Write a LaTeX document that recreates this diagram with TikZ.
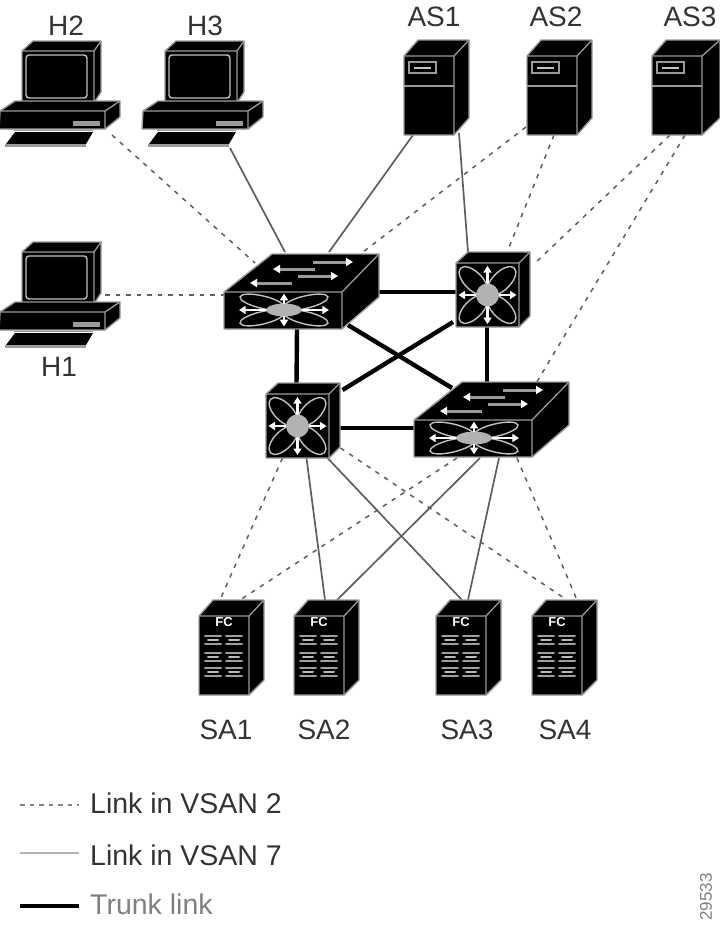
\documentclass[tikz,border=0pt]{standalone}
\usepackage{fontspec}
\setmainfont{Liberation Sans}
\usetikzlibrary{backgrounds,arrows.meta}
\definecolor{edgegray}{HTML}{9A9A9A}
\definecolor{linkgray}{HTML}{5E5E5E}
\definecolor{txtgray}{HTML}{333333}
\tikzset{
  devbox/.style={inner sep=0pt,outer sep=0pt,draw=none,rectangle},
  blk/.style={fill=black,draw=edgegray,line width=1.4pt,line join=round},
  dashlink/.style={draw=linkgray,line width=1.5pt,dash pattern=on 4.5pt off 6pt},
  sollink/.style={draw=linkgray,line width=1.7pt},
  trunk/.style={draw=black,line width=4.4pt},
  lbl/.style={inner sep=0pt,text=txtgray,font=\fontsize{28}{30}\selectfont},
  leg/.style={inner sep=0pt,anchor=west,font=\fontsize{28.5}{30}\selectfont},
  star/.style={draw=white,line width=2.2pt,{Triangle[width=8pt,length=6.5pt,fill=white]}-{Triangle[width=8pt,length=6.5pt,fill=white]}},
  pet/.style={draw=edgegray!60!white,line width=1.4pt},
  lefta/.style={draw=edgegray,line width=3pt,{Triangle[width=8pt,length=7pt,fill=white,color=white]}-},
  righta/.style={draw=edgegray,line width=3pt,-{Triangle[width=8pt,length=7pt,fill=white,color=white]}}
}
% star emblem: centre, x scale, y scale
\newcommand{\staremblem}[4]{%
  \begin{scope}[shift={(#1,#2)},xscale=#3,yscale=#4]
    \foreach \a in {45,135,225,315}{\draw[pet,rotate=\a] (20,0) ellipse (18 and 9);}
    \draw[star] (-29,0) -- (29,0);
    \draw[star] (0,-29) -- (0,29);
    \fill[gray!60] (0,0) circle (11.5);
  \end{scope}}
% PC: name, dx, dy
\newcommand{\pcicon}[3]{%
  \begin{scope}[shift={(#2,#3)}]
    \node[devbox,minimum width=121pt,minimum height=104pt] (#1) at (59.5,93) {};
    \draw[blk] (22,51) -- (33,41) -- (101,41) -- (101,92) -- (94,103) -- (22,103) -- cycle;
    \draw[edgegray,line width=1.3pt] (22,51) -- (94,51) -- (101,41) (94,51) -- (94,103);
    \draw[draw=edgegray!60!white,line width=1.4pt,rounded corners=3pt] (26,55) rectangle (87,98);
    \draw[blk] (0,111) -- (15,101) -- (120,101) -- (120,117) -- (105,129) -- (-1,129) -- cycle;
    \draw[edgegray,line width=1.3pt] (0,111) -- (105,111) -- (120,101) (105,111) -- (105,129);
    \fill[edgegray] (73,121) rectangle (100,125.5);
    \fill[black] (15,132) -- (93,132) -- (86,144) -- (6,144) -- cycle;
    \draw[edgegray,line width=1.4pt] (14,130.5) -- (93,130.5);
    \draw[edgegray,line width=3pt] (5,145.5) -- (86,145.5);
  \end{scope}}
% Server: name, dx, side depth
\newcommand{\srvicon}[3]{%
  \begin{scope}[shift={(#2,0)}]
    \node[devbox,minimum width=65pt,minimum height=95pt] (#1) at (32.5+404,87.5) {};
    \draw[blk] (404,56) -- (418,40) -- (454+#3,40) -- (454+#3,118) -- (454,135) -- (404,135) -- cycle;
    \draw[edgegray,line width=1.3pt] (404,56) -- (454,56) -- (454+#3,40) (454,56) -- (454,135);
    \draw[edgegray,line width=2pt] (404,86) -- (454,86);
    \draw[edgegray,line width=1.4pt] (409,62) rectangle (436,73);
    \draw[edgegray!60!white,line width=2pt] (414,67.5) -- (431,67.5);
  \end{scope}}
% Storage array: name, dx
\newcommand{\fcicon}[2]{%
  \begin{scope}[shift={(#2,0)}]
    \node[devbox,minimum width=65pt,minimum height=95pt] (#1) at (231.5,647.5) {};
    \draw[blk] (199,616) -- (213,600) -- (264,600) -- (264,680) -- (249,695) -- (199,695) -- cycle;
    \draw[edgegray,line width=1.3pt] (199,616) -- (249,616) -- (264,600) (249,616) -- (249,695);
    \node[inner sep=0pt,text=white,font=\bfseries\fontsize{13}{13}\selectfont] at (224,622.5) {FC};
    \foreach \cx in {213,234}{\foreach \cy in {636,653,668}{
      \draw[gray!75,line width=2pt,line cap=round] (\cx-8,\cy) -- (\cx+8,\cy) (\cx-8,\cy+8) -- (\cx+8,\cy+8);
      \draw[gray!55,line width=2pt,line cap=round] (\cx-5,\cy+4) -- (\cx+5,\cy+4);
    }}
  \end{scope}}
% Top-of-box switch: name, dx, dy
\newcommand{\swicon}[3]{%
  \begin{scope}[shift={(#2,#3)}]
    \node[devbox,minimum width=155pt,minimum height=75pt] (#1) at (301.5,291.5) {};
    \draw[blk] (224,292) -- (272,254) -- (379,254) -- (379,297) -- (342,329) -- (224,329) -- cycle;
    \draw[edgegray,line width=1.3pt] (224,292) -- (342,292) -- (379,254) (342,292) -- (342,329);
    \draw[righta] (313,262) -- (353,262);
    \draw[lefta] (273,269) -- (315,269);
    \draw[righta] (298,276) -- (338,276);
    \draw[lefta] (250,283) -- (292,283);
    \staremblem{284}{310}{1.55}{0.56}
  \end{scope}}
% Director: name, dx, dy
\newcommand{\diricon}[3]{%
  \begin{scope}[shift={(#2,#3)}]
    \node[devbox,minimum width=74pt,minimum height=75pt] (#1) at (493,289.5) {};
    \draw[blk] (456,263) -- (468,252) -- (530,252) -- (530,316) -- (519,327) -- (456,327) -- cycle;
    \draw[edgegray,line width=1.3pt] (456,263) -- (519,263) -- (530,252) (519,263) -- (519,327);
    \staremblem{487.5}{295}{1}{1}
  \end{scope}}
\begin{document}
\begin{tikzpicture}[x=1pt,y=-1pt]
\useasboundingbox (0,0) rectangle (720,927);
% devices
\pcicon{h2}{0}{0}
\pcicon{h3}{143}{0}
\pcicon{h1}{0}{201}
\srvicon{as1}{0}{15}
\srvicon{as2}{123}{15}
\srvicon{as3}{248}{18}
\swicon{sw1}{0}{0}
\swicon{sw4}{190}{128}
\diricon{sw2}{0}{0}
\diricon{sw3}{-190}{131}
\fcicon{sa1}{0}
\fcicon{sa2}{95}
\fcicon{sa3}{237}
\fcicon{sa4}{333}
% labels
\node[lbl] (lh2) at (66,26) {H2};
\node[lbl] (lh3) at (205,26) {H3};
\node[lbl] (las1) at (434,17) {AS1};
\node[lbl] (las2) at (556,17) {AS2};
\node[lbl] (las3) at (690,17) {AS3};
\node[lbl] (lh1) at (59,367) {H1};
\node[lbl] (lsa1) at (226,730) {SA1};
\node[lbl] (lsa2) at (324,730) {SA2};
\node[lbl] (lsa3) at (467,730) {SA3};
\node[lbl] (lsa4) at (565,730) {SA4};
% links
\begin{scope}[on background layer]
\draw[dashlink] ([shift={(52.5,42)}]h2.center) -- ([shift={(-46.5,-28.5)}]sw1.center);
\draw[dashlink] ([shift={(45.5,1)}]h1.center) -- ([shift={(-76.5,3.5)}]sw1.center);
\draw[sollink] ([shift={(27.5,55)}]h3.center) -- ([shift={(-16.5,-39.5)}]sw1.center);
\draw[sollink] ([shift={(-23.5,47.5)}]as1.center) -- ([shift={(27.5,-39.5)}]sw1.center);
\draw[dashlink] ([shift={(-33.5,39.5)}]as2.center) -- ([shift={(61.5,-39.5)}]sw1.center);
\draw[sollink] ([shift={(22.5,45.5)}]as1.center) -- ([shift={(-25,-37.5)}]sw2.center);
\draw[dashlink] ([shift={(-5.5,47.5)}]as2.center) -- ([shift={(15,-39.5)}]sw2.center);
\draw[dashlink] ([shift={(-14.5,47.5)}]as3.center) -- ([shift={(40,-24.5)}]sw2.center);
\draw[dashlink] ([shift={(0.5,47.5)}]as3.center) -- ([shift={(43.5,-34.5)}]sw4.center);
\draw[dashlink] ([shift={(-20.5,37.5)}]sw3.center) -- ([shift={(-11.5,-47.5)}]sa1.center);
\draw[dashlink] ([shift={(-34.5,38.5)}]sw4.center) -- ([shift={(8.5,-47.5)}]sa1.center);
\draw[sollink] ([shift={(3.5,37.5)}]sw3.center) -- ([shift={(-1.5,-47.5)}]sa2.center);
\draw[sollink] ([shift={(-11.5,38.5)}]sw4.center) -- ([shift={(10.5,-47.5)}]sa2.center);
\draw[sollink] ([shift={(24.5,37.5)}]sw3.center) -- ([shift={(-6.5,-47.5)}]sa3.center);
\draw[sollink] ([shift={(7.5,38.5)}]sw4.center) -- ([shift={(-0.5,-47.5)}]sa3.center);
\draw[dashlink] ([shift={(37.5,27.5)}]sw3.center) -- ([shift={(2.5,-47.5)}]sa4.center);
\draw[dashlink] ([shift={(25.5,38.5)}]sw4.center) -- ([shift={(12.5,-47.5)}]sa4.center);
\draw[trunk] ([shift={(77,0.5)}]sw1.center) -- ([shift={(-36,2.5)}]sw2.center);
\draw[trunk] ([shift={(-4.5,37.5)}]sw1.center) -- ([shift={(-6.5,-35.5)}]sw3.center);
\draw[trunk] ([shift={(-6,37.5)}]sw2.center) -- ([shift={(-4.5,-35.5)}]sw4.center);
\draw[trunk] ([shift={(36.5,7.5)}]sw3.center) -- ([shift={(-75.5,8.5)}]sw4.center);
\draw[trunk] ([shift={(46.5,33.5)}]sw1.center) -- ([shift={(-39.5,-31.5)}]sw4.center);
\draw[trunk] ([shift={(-40,32.5)}]sw2.center) -- ([shift={(39.5,-30.5)}]sw3.center);
\end{scope}
% legend
\coordinate (ld1) at (20,805); \coordinate (ld2) at (79,805);
\coordinate (ls1) at (20,853); \coordinate (ls2) at (79,853);
\coordinate (lt1) at (20,906); \coordinate (lt2) at (79,906);
\draw[draw=gray,line width=1.3pt,dash pattern=on 4.5pt off 5pt] (ld1) -- (ld2);
\draw[draw=gray!60,line width=2.6pt] (ls1) -- (ls2);
\draw[draw=black,line width=4.4pt] (lt1) -- (lt2);
\node[leg,text=txtgray] (t1) at (90,803) {Link in VSAN 2};
\node[leg,text=txtgray] (t2) at (90,855) {Link in VSAN 7};
\node[leg,text=gray] (t3) at (90,904) {Trunk link};
\node[inner sep=0pt,rotate=90,text=gray,font=\fontsize{17}{17}\selectfont] (fig) at (706,897) {29533};
\end{tikzpicture}
\end{document}
